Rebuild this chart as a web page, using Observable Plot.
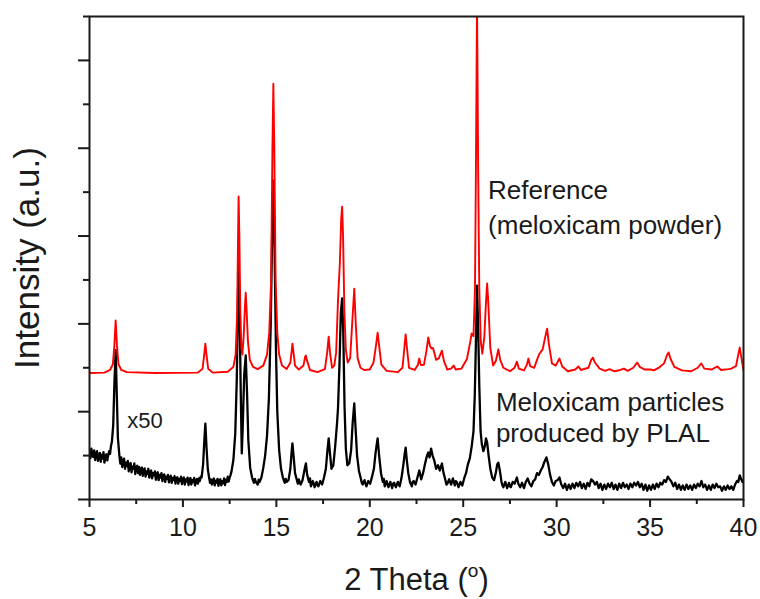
<!DOCTYPE html>
<html>
<head>
<meta charset="utf-8">
<script src="https://cdn.jsdelivr.net/npm/d3@7"></script>
<script src="https://cdn.jsdelivr.net/npm/@observablehq/plot@0.6"></script>
<style>
  html, body { margin: 0; padding: 0; background: #fff; }
  #chart svg { display: block; }
</style>
</head>
<body>
<div id="chart"></div>
<script>
// Tick values
const xMajor = [5, 10, 15, 20, 25, 30, 35, 40];
const xMinor = [7.5, 12.5, 17.5, 22.5, 27.5, 32.5, 37.5];
const yMajor = [0, 200, 400, 600, 800, 1000];
const yMinor = [100, 300, 500, 700, 900, 1100];

// Reference (meloxicam powder) pattern: [2theta, intensity]
const referencePattern = [
  [5.0,288],[5.8,289],[6.1,295],[6.25,308],[6.33,350],[6.4,408],[6.47,350],[6.55,308],[6.7,295],[7.0,290],
  [8.5,288],[10.8,289],[11.05,298],[11.14,330],[11.2,355],[11.26,330],[11.35,298],[11.6,289],
  [12.4,291],[12.7,302],[12.82,330],[12.9,420],[12.95,600],[12.98,690],[13.02,600],[13.07,430],
  [13.13,345],[13.18,330],[13.25,370],[13.32,440],[13.36,471],[13.41,430],[13.48,360],[13.58,318],
  [13.75,302],[14.0,297],[14.3,305],[14.5,330],[14.62,380],[14.72,500],[14.79,800],[14.84,947],
  [14.89,800],[14.96,500],[15.05,380],[15.15,330],[15.3,305],[15.55,297],
  [15.75,312],[15.82,338],[15.86,355],[15.91,338],[16.0,305],[16.2,296],[16.45,305],[16.54,325],
  [16.58,328],[16.63,318],[16.8,295],[17.2,290],[17.6,297],[17.72,335],[17.8,371],[17.87,335],
  [17.98,300],[18.1,305],[18.2,335],[18.3,455],[18.4,540],[18.47,640],[18.52,667],[18.57,600],
  [18.64,430],[18.72,340],[18.82,312],[18.95,322],[19.07,410],[19.17,480],[19.25,400],[19.35,322],
  [19.5,300],[19.7,295],[20.0,296],[20.2,312],[20.33,350],[20.42,380],[20.5,350],[20.62,307],
  [20.9,293],[21.5,290],[21.75,300],[21.85,345],[21.92,376],[21.99,345],[22.1,300],[22.4,295],
  [22.57,306],[22.65,321],[22.73,306],[22.9,307],[23.03,338],[23.13,369],[23.22,350],[23.3,344],
  [23.38,345],[23.45,335],[23.55,318],[23.7,322],[23.86,339],[23.97,315],[24.15,296],[24.35,298],
  [24.49,305],[24.6,296],[24.9,298],[25.2,320],[25.38,360],[25.45,378],[25.55,372],[25.63,480],
  [25.68,750],[25.74,1130],[25.8,750],[25.86,480],[25.94,360],[26.02,332],[26.13,370],[26.22,450],
  [26.28,492],[26.34,450],[26.45,345],[26.6,305],[26.75,316],[26.88,342],[26.98,318],[27.15,300],
  [27.5,292],[27.75,300],[27.87,314],[27.98,298],[28.25,294],[28.4,306],[28.49,321],[28.58,304],
  [28.8,300],[28.95,318],[29.08,332],[29.25,342],[29.4,372],[29.49,389],[29.58,355],[29.75,310],
  [29.95,305],[30.15,321],[30.3,303],[30.6,292],[31.0,296],[31.17,303],[31.3,295],[31.7,300],
  [31.85,318],[31.94,323],[32.05,312],[32.3,298],[32.6,293],[32.83,297],[33.1,292],[33.4,295],
  [33.6,298],[33.8,293],[34.1,300],[34.31,312],[34.45,302],[34.7,296],[35.03,296],[35.2,294],
  [35.5,301],[35.75,310],[35.9,328],[35.99,335],[36.1,320],[36.3,302],[36.7,294],[37.2,292],
  [37.55,300],[37.74,310],[37.9,298],[38.3,296],[38.6,303],[38.8,295],[39.2,297],[39.35,298],
  [39.6,304],[39.72,330],[39.8,346],[39.88,325],[40.0,294]
];

// Meloxicam particles produced by PLAL (x50): [2theta, intensity]
const plalPattern = [
  [5.0,108],[5.05,94],[5.1,116],[5.15,101],[5.2,97],[5.25,112],[5.3,90],[5.35,104],[5.4,110],
  [5.45,88],[5.5,99],[5.55,106],[5.6,86],[5.65,102],[5.7,93],[5.75,108],[5.8,84],[5.85,96],
  [5.9,103],[5.95,89],[6.0,100],[6.05,110],[6.1,104],[6.15,122],[6.2,132],[6.27,170],[6.33,260],
  [6.4,340],[6.46,240],[6.52,140],[6.6,100],[6.65,82],[6.7,96],[6.75,74],[6.8,88],[6.85,93],
  [6.9,70],[6.95,84],[7.0,76],[7.05,88],[7.1,64],[7.15,79],[7.2,83],[7.25,62],[7.3,75],[7.35,70],
  [7.4,82],[7.45,58],[7.5,72],[7.55,77],[7.6,60],[7.65,74],[7.7,56],[7.75,68],[7.8,73],[7.85,54],
  [7.9,66],[7.95,71],[8.0,52],[8.05,64],[8.1,58],[8.15,70],[8.2,50],[8.25,62],[8.3,66],[8.35,48],
  [8.4,60],[8.45,55],[8.5,64],[8.55,45],[8.6,58],[8.65,62],[8.7,44],[8.75,56],[8.8,50],[8.85,60],
  [8.9,42],[8.95,54],[9.0,57],[9.05,40],[9.1,52],[9.15,47],[9.2,56],[9.25,39],[9.3,50],[9.35,54],
  [9.4,38],[9.45,49],[9.5,44],[9.55,53],[9.6,36],[9.65,48],[9.7,51],[9.75,36],[9.8,47],[9.85,42],
  [9.9,52],[9.95,35],[10.0,46],[10.05,50],[10.1,34],[10.15,46],[10.2,41],[10.25,50],[10.3,33],
  [10.35,45],[10.4,49],[10.45,34],[10.5,44],[10.55,40],[10.6,49],[10.65,32],[10.7,44],[10.75,47],
  [10.8,36],[10.85,48],[10.9,42],[10.95,52],[11.0,50],[11.08,80],[11.14,130],[11.2,173],[11.26,120],
  [11.33,70],[11.4,50],[11.45,38],[11.5,46],[11.55,34],[11.6,44],[11.65,48],[11.7,32],[11.75,43],
  [11.8,38],[11.85,47],[11.9,31],[11.95,44],[12.0,46],[12.05,32],[12.1,42],[12.15,37],[12.2,48],
  [12.25,33],[12.3,45],[12.35,40],[12.4,52],[12.45,41],[12.5,50],[12.55,56],[12.6,64],[12.7,90],
  [12.8,150],[12.88,270],[12.94,440],[12.98,551],[13.03,430],[13.1,230],[13.15,105],[13.2,165],
  [13.28,285],[13.36,328],[13.43,245],[13.5,135],[13.6,72],[13.7,50],[13.8,38],[13.85,47],[13.9,40],
  [14.0,34],[14.05,45],[14.1,40],[14.2,50],[14.3,72],[14.4,100],[14.5,145],[14.6,230],[14.7,400],
  [14.78,620],[14.84,726],[14.9,580],[14.98,340],[15.05,200],[15.15,112],[15.25,70],[15.35,50],
  [15.45,38],[15.5,47],[15.55,40],[15.65,44],[15.75,70],[15.82,110],[15.86,128],[15.92,100],
  [16.0,60],[16.1,44],[16.15,36],[16.2,46],[16.3,34],[16.4,44],[16.5,66],[16.58,82],[16.65,56],
  [16.75,40],[16.8,48],[16.85,30],[16.95,42],[17.0,36],[17.05,28],[17.15,40],[17.2,33],[17.25,30],
  [17.35,42],[17.45,34],[17.55,50],[17.65,70],[17.73,110],[17.8,139],[17.87,105],[17.95,70],
  [18.05,78],[18.15,122],[18.25,175],[18.3,209],[18.38,310],[18.45,425],[18.52,458],[18.58,385],
  [18.65,210],[18.72,115],[18.8,78],[18.9,82],[19.0,112],[19.08,172],[19.17,219],[19.24,162],
  [19.32,100],[19.42,65],[19.52,48],[19.57,38],[19.62,34],[19.72,44],[19.77,36],[19.82,30],
  [19.92,42],[20.02,36],[20.12,52],[20.22,70],[20.32,110],[20.42,139],[20.5,100],[20.6,60],
  [20.7,40],[20.75,47],[20.8,30],[20.9,42],[20.95,34],[21.0,28],[21.1,40],[21.2,26],[21.25,36],
  [21.3,38],[21.4,28],[21.5,40],[21.6,30],[21.7,50],[21.8,80],[21.87,105],[21.92,118],[21.98,90],
  [22.06,60],[22.15,40],[22.25,30],[22.3,40],[22.35,42],[22.45,34],[22.55,50],[22.65,66],
  [22.75,46],[22.85,60],[22.95,80],[23.05,98],[23.13,107],[23.2,96],[23.28,116],[23.36,100],
  [23.45,89],[23.55,70],[23.65,78],[23.75,66],[23.86,82],[23.95,60],[24.05,44],[24.1,34],
  [24.15,36],[24.25,46],[24.35,34],[24.45,48],[24.55,32],[24.6,42],[24.65,40],[24.75,28],
  [24.85,40],[24.95,32],[25.05,48],[25.15,60],[25.25,80],[25.35,93],[25.45,120],[25.55,155],
  [25.62,240],[25.68,360],[25.74,487],[25.8,390],[25.86,260],[25.93,155],[26.0,125],[26.08,110],
  [26.16,122],[26.22,139],[26.28,130],[26.36,100],[26.45,70],[26.55,50],[26.65,44],[26.75,62],
  [26.82,80],[26.88,84],[26.96,66],[27.05,40],[27.1,32],[27.15,28],[27.25,40],[27.35,26],
  [27.45,38],[27.5,30],[27.55,28],[27.65,40],[27.75,36],[27.87,50],[27.95,36],[28.05,28],
  [28.15,38],[28.25,26],[28.35,40],[28.45,48],[28.55,36],[28.65,30],[28.75,42],[28.85,46],
  [28.95,60],[29.05,56],[29.15,66],[29.25,74],[29.35,86],[29.45,96],[29.55,80],[29.65,56],
  [29.75,40],[29.85,32],[29.95,42],[30.05,44],[30.15,50],[30.25,34],[30.35,26],[30.45,36],
  [30.55,22],[30.65,34],[30.75,24],[30.85,36],[30.95,26],[31.05,38],[31.15,30],[31.25,40],
  [31.35,26],[31.45,36],[31.55,24],[31.65,38],[31.75,30],[31.85,46],[31.95,42],[32.05,34],
  [32.15,40],[32.25,26],[32.35,36],[32.45,22],[32.55,34],[32.65,24],[32.75,36],[32.85,28],
  [32.95,38],[33.05,24],[33.15,34],[33.25,22],[33.35,36],[33.45,26],[33.55,38],[33.65,28],
  [33.75,34],[33.85,24],[33.95,36],[34.05,28],[34.15,38],[34.25,32],[34.35,40],[34.45,28],
  [34.55,36],[34.65,22],[34.75,34],[34.85,20],[34.95,32],[35.05,22],[35.15,34],[35.25,24],
  [35.35,36],[35.45,28],[35.55,38],[35.65,34],[35.75,44],[35.85,40],[35.95,52],[36.05,46],
  [36.15,40],[36.25,30],[36.35,38],[36.45,24],[36.55,34],[36.65,22],[36.75,32],[36.85,22],
  [36.95,34],[37.05,24],[37.15,32],[37.25,22],[37.35,34],[37.45,26],[37.55,36],[37.65,30],
  [37.75,42],[37.85,28],[37.95,34],[38.05,22],[38.15,32],[38.25,22],[38.35,34],[38.45,26],
  [38.55,36],[38.65,28],[38.75,30],[38.85,20],[38.95,30],[39.05,22],[39.15,32],[39.25,24],
  [39.35,30],[39.45,22],[39.55,34],[39.65,42],[39.72,40],[39.8,55],[39.88,46],[39.95,40],[40.0,44]
];

// Annotation texts
const annotations = [
  {t: 26.33, v: 704, text: "Reference", size: 26},
  {t: 26.33, v: 624, text: "(meloxicam powder)", size: 26},
  {t: 26.75, v: 221, text: "Meloxicam particles", size: 26},
  {t: 26.75, v: 150, text: "produced by PLAL", size: 26},
  {t: 7.02, v: 178, text: "x50", size: 22}
];

const font = "'Liberation Sans', Arial, Helvetica, sans-serif";
const ink = "#1a1a1a";

const chart = Plot.plot({
  width: 760,
  height: 599,
  marginLeft: 89,
  marginRight: 17,
  marginTop: 16,
  marginBottom: 100,
  style: {fontFamily: font, background: "#fff", color: ink, overflow: "visible"},
  x: {domain: [5, 40]},
  y: {domain: [0, 1100]},
  marks: [
    Plot.line(plalPattern, {x: d => d[0], y: d => d[1], stroke: "#000", strokeWidth: 2.3, clip: true}),
    Plot.line(referencePattern, {x: d => d[0], y: d => d[1], stroke: "#ff0000", strokeWidth: 1.9, clip: true}),
    Plot.frame({stroke: ink, strokeWidth: 2}),
    Plot.axisX({ticks: xMajor, tickSize: 8, tickPadding: 11, fontSize: 25, label: null, strokeWidth: 2, stroke: ink, fill: ink}),
    Plot.axisX({ticks: xMinor, tickSize: 5, tickFormat: () => "", label: null, strokeWidth: 2, stroke: ink}),
    Plot.axisY({ticks: yMajor, tickSize: 11, tickFormat: () => "", label: null, strokeWidth: 2, stroke: ink}),
    Plot.axisY({ticks: yMinor, tickSize: 6, tickFormat: () => "", label: null, strokeWidth: 2, stroke: ink}),
    Plot.text(annotations, {x: "t", y: "v", text: "text", textAnchor: "start", lineAnchor: "middle", fill: ink}),
    Plot.text(["Intensity (a.u.)"], {frameAnchor: "left", dx: -62, rotate: -90, fontSize: 35, fill: ink, textAnchor: "middle", lineAnchor: "middle"}),
    Plot.text(["2 Theta (°)"], {frameAnchor: "bottom", dy: 81, fontSize: 31, fill: ink, textAnchor: "middle", lineAnchor: "middle"})
  ]
});

document.getElementById("chart").appendChild(chart);

// per-text sizes and superscript in the x label
d3.select(chart).selectAll("text").each(function() {
  const el = d3.select(this);
  const s = el.text();
  const a = annotations.find(a => a.text === s);
  if (a) el.attr("font-size", a.size);
  if (s === "2 Theta (°)") {
    el.text(null);
    el.append("tspan").text("2 Theta (");
    el.append("tspan").text("o").attr("font-size", 19).attr("dy", -13);
    el.append("tspan").text(")").attr("dy", 13);
  }
});
</script>
</body>
</html>
